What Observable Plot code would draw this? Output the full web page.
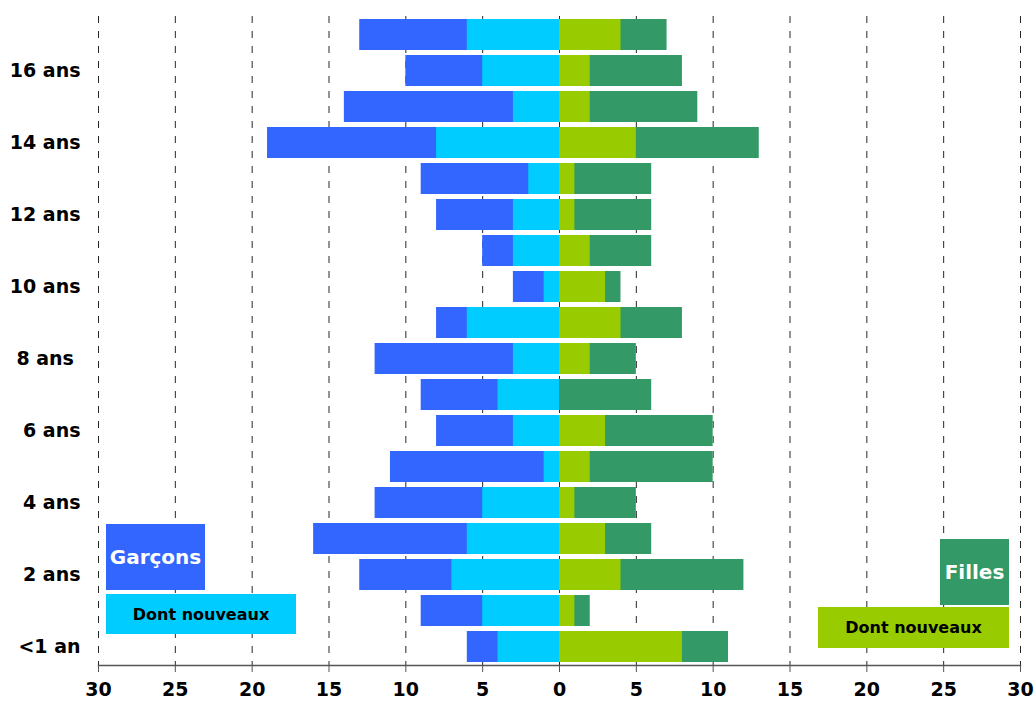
<!DOCTYPE html>
<html>
<head>
<meta charset="utf-8">
<script src="https://cdn.jsdelivr.net/npm/d3@7"></script>
<script src="https://cdn.jsdelivr.net/npm/@observablehq/plot@0.6"></script>
<style>
  html, body { margin: 0; padding: 0; background: #fff; }
  #wrap { position: relative; width: 1034px; height: 715px; font-family: "DejaVu Sans", sans-serif; font-weight: bold; }
  .lg { position: absolute; display: flex; align-items: center; justify-content: center; }
</style>
</head>
<body>
<div id="wrap"></div>
<script>
// Age categories, bottom (<1 an) to top (17 ans)
const ages = ["<1 an","1 an","2 ans","3 ans","4 ans","5 ans","6 ans","7 ans","8 ans\u00a0","9 ans","10 ans","11 ans","12 ans","13 ans","14 ans","15 ans","16 ans","17 ans"];
// Which age labels are printed on the axis
const shownLabels = ["<1 an","2 ans","4 ans","6 ans","8 ans\u00a0","10 ans","12 ans","14 ans","16 ans"];
// Garçons (total) and dont nouveaux
const boysTotal = [6, 9, 13, 16, 12, 11, 8, 9, 12, 8, 3, 5, 8, 9, 19, 14, 10, 13];
const boysNew   = [4, 5, 7, 6, 5, 1, 3, 4, 3, 6, 1, 3, 3, 2, 8, 3, 5, 6];
// Filles (total) and dont nouveaux
const girlsTotal = [11, 2, 12, 6, 5, 10, 10, 6, 5, 8, 4, 6, 6, 6, 13, 9, 8, 7];
const girlsNew   = [8, 1, 4, 3, 1, 2, 3, 0, 2, 4, 3, 2, 1, 1, 5, 2, 2, 4];
// x tick values
const xTicks = [-30,-25,-20,-15,-10,-5,0,5,10,15,20,25,30];

const colors = {boys: "#3366FF", boysNew: "#00CCFF", girls: "#339966", girlsNew: "#99CC00"};

const data = ages.map((a, i) => ({
  age: a,
  boys: boysTotal[i], boysNew: boysNew[i],
  girls: girlsTotal[i], girlsNew: girlsNew[i]
}));

const chart = Plot.plot({
  width: 1034,
  height: 715,
  marginLeft: 98,
  marginRight: 14,
  marginTop: 16,
  marginBottom: 50,
  style: {fontFamily: "DejaVu Sans, sans-serif", fontWeight: "bold", fontSize: "19px", color: "#000", background: "#fff"},
  x: {domain: [-30, 30]},
  y: {domain: ages.slice().reverse(), paddingInner: 0.14, paddingOuter: 0.05},
  marks: [
    Plot.gridX(xTicks, {stroke: "#000", strokeOpacity: 0.85, strokeDasharray: "7,8"}),
    Plot.barX(data, {y: "age", x1: 0, x2: d => -d.boys, fill: colors.boys}),
    Plot.barX(data, {y: "age", x1: 0, x2: d => -d.boysNew, fill: colors.boysNew}),
    Plot.barX(data, {y: "age", x1: 0, x2: d => d.girls, fill: colors.girls}),
    Plot.barX(data, {y: "age", x1: 0, x2: d => d.girlsNew, fill: colors.girlsNew}),
    Plot.ruleX([0], {stroke: "#555", strokeOpacity: 0.75, strokeWidth: 2, y1: null, insetBottom: -7}),
    Plot.frame({anchor: "bottom", stroke: "#555", strokeWidth: 1.5}),
    Plot.axisX({ticks: xTicks, tickSize: 7, tickPadding: 10, tickFormat: d => Math.abs(d), stroke: "#555", label: null, fontSize: 19}),
    Plot.axisY({tickSize: 0, tickPadding: 18, tickFormat: d => shownLabels.includes(d) ? d : "", label: null, fontSize: 19})
  ]
});

const wrap = document.getElementById("wrap");
wrap.appendChild(chart);

const legends = [
  {text: "Garçons", bg: colors.boys, fg: "#fff", size: 20, left: 106, top: 524, w: 99, h: 66},
  {text: "Dont nouveaux", bg: colors.boysNew, fg: "#000", size: 16, left: 106, top: 594, w: 190, h: 40},
  {text: "Filles", bg: colors.girls, fg: "#fff", size: 20, left: 940, top: 539, w: 69, h: 66},
  {text: "Dont nouveaux", bg: colors.girlsNew, fg: "#000", size: 16, left: 818, top: 607, w: 191, h: 41}
];
for (const l of legends) {
  const d = document.createElement("div");
  d.className = "lg";
  d.textContent = l.text;
  Object.assign(d.style, {
    left: l.left + "px", top: l.top + "px", width: l.w + "px", height: l.h + "px",
    background: l.bg, color: l.fg, fontSize: l.size + "px"
  });
  wrap.appendChild(d);
}
</script>
</body>
</html>
